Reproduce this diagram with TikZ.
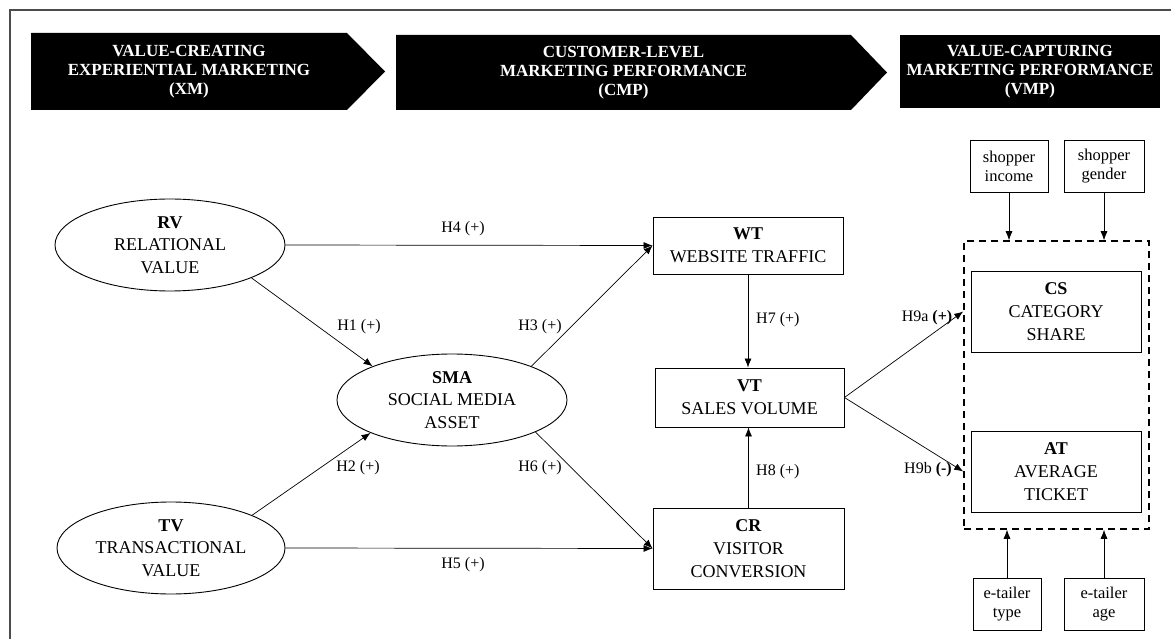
\documentclass[tikz,border=0pt]{standalone}
\usepackage{fontspec}
\setmainfont{Liberation Serif}
\usetikzlibrary{arrows.meta,shapes.geometric}
\begin{document}
\begin{tikzpicture}[x=1pt,y=-1pt,
  construct/.style={draw, line width=0.9pt, ellipse, minimum width=230pt, minimum height=92pt,
    inner sep=0pt, align=center, font=\fontsize{18}{22.5}\selectfont},
  metric/.style={draw, line width=0.9pt, rectangle, inner sep=0pt, align=center,
    font=\fontsize{18}{23}\selectfont},
  control/.style={draw, line width=0.9pt, rectangle, inner sep=0pt, align=center,
    minimum width=78pt, minimum height=52pt, font=\fontsize{16.5}{19}\selectfont},
  banner/.style={fill=black},
  bannertext/.style={text=white, align=center, inner sep=0pt,
    font=\bfseries\fontsize{17}{19}\selectfont},
  link/.style={line width=0.7pt, -{Latex[length=9pt,width=7pt]}},
  hyp/.style={font=\fontsize{16}{18}\selectfont, inner sep=0pt},
]
\useasboundingbox (0,0) rectangle (1171,639);

% outer frame (top and left edges)
\draw[line width=1.5pt, black!70] (1171,10) -- (10,10) -- (10,639);

% stage banners
\fill[banner] (31,33) -- (347,33) -- (385,71.5) -- (347,110) -- (31,110) -- cycle;
\fill[banner] (396,35) -- (851,35) -- (887,72.5) -- (851,110) -- (396,110) -- cycle;
\fill[banner] (900,35) rectangle (1160,108);
\node[bannertext] (xm)  at (189,71.5)  {VALUE-CREATING\\EXPERIENTIAL MARKETING\\(XM)};
\node[bannertext] (cmp) at (623.5,72.5) {CUSTOMER-LEVEL\\MARKETING PERFORMANCE\\(CMP)};
\node[bannertext] (vmp) at (1030,71.5) {VALUE-CAPTURING\\MARKETING PERFORMANCE\\(VMP)};

% experiential value constructs
\node[construct] (RV)  at (170,245) {\textbf{RV}\\RELATIONAL\\VALUE};
\node[construct] (SMA) at (452,400) {\textbf{SMA}\\SOCIAL MEDIA\\ASSET};
\node[construct, minimum width=228pt] (TV) at (171,548) {\textbf{TV}\\TRANSACTIONAL\\VALUE};

% customer-level metrics
\node[metric, minimum width=190pt, minimum height=57pt] (WT) at (748,245.5) {\textbf{WT}\\WEBSITE TRAFFIC};
\node[metric, minimum width=189pt, minimum height=59pt] (VT) at (749.5,397.5) {\textbf{VT}\\SALES VOLUME};
\node[metric, minimum width=191pt, minimum height=81pt] (CR) at (748.5,548.5) {\textbf{CR}\\VISITOR\\CONVERSION};

% value-capturing outcomes
\node[draw, line width=1.5pt, dash pattern=on 7pt off 5pt, minimum width=185pt,
  minimum height=288pt, inner sep=0pt] (mod) at (1056.5,385) {};
\node[metric, minimum width=170pt, minimum height=81pt] (CS) at (1056,311.5) {\textbf{CS}\\CATEGORY\\SHARE};
\node[metric, minimum width=170pt, minimum height=81pt] (AT) at (1056,471.5) {\textbf{AT}\\AVERAGE\\TICKET};

% control variables
\node[control] (inc) at (1009,166) {shopper\\income};
\node[control, minimum width=80pt] (gen) at (1104,166) {shopper\\gender};
\node[control, minimum width=68pt] (typ) at (1007,604) {e-tailer\\type};
\node[control, minimum width=80pt] (age) at (1104,604) {e-tailer\\age};

% hypothesised paths
\draw[link] (RV.east) -- (WT.west);
\draw[link] (RV.-22) -- (SMA.157);
\draw[link] (TV.22) -- (SMA.202);
\draw[link] (SMA.23) -- (WT.west);
\draw[link] (SMA.-21) -- (CR.west);
\draw[link] (TV.east) -- (CR.west);
\draw[link] (WT.south) -- (WT.south |- VT.north);
\draw[link] (CR.north) -- (CR.north |- VT.south);
\draw[link] (VT.east) -- (CS.west -| mod.west);
\draw[link] (VT.east) -- (AT.west -| mod.west);

% control effects
\draw[link] (inc.south) -- (inc.south |- mod.north);
\draw[link] (gen.south) -- (gen.south |- mod.north);
\draw[link] (typ.north) -- (typ.north |- mod.south);
\draw[link] (age.north) -- (age.north |- mod.south);

% path labels
\node[hyp] (h4) at (463,229) {H4 (+)};
\node[hyp] (h1) at (359,327) {H1 (+)};
\node[hyp] (h3) at (540,327) {H3 (+)};
\node[hyp, anchor=west] (h7) at (756,320) {H7 (+)};
\node[hyp] (h9a) at (927,318) {H9a \textbf{(+)}};
\node[hyp] (h2) at (358,468) {H2 (+)};
\node[hyp] (h6) at (540,468) {H6 (+)};
\node[hyp, anchor=west] (h8) at (756,472) {H8 (+)};
\node[hyp] (h9b) at (928,470) {H9b \textbf{(-)}};
\node[hyp] (h5) at (463,565) {H5 (+)};
\end{tikzpicture}
\end{document}
